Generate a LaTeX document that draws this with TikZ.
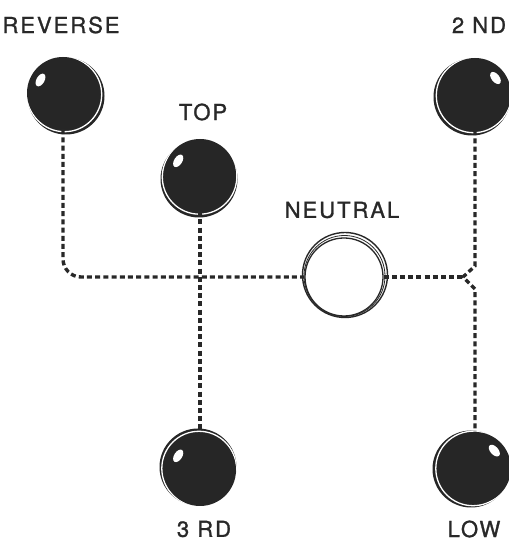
\documentclass[tikz,border=0pt]{standalone}
\usepackage{fontspec}
\setmainfont{TeX Gyre Heros}[LetterSpace=9, FakeBold=1.2]
\usetikzlibrary{calc}

\definecolor{knobgray}{RGB}{38,38,38}
\definecolor{inkgray}{RGB}{40,40,40}

\tikzset{
  knob/.style={circle, fill=knobgray, minimum size=72pt, inner sep=0pt},
  neutralknob/.style={circle, draw=inkgray, line width=1.3pt, fill=white, minimum size=78pt, inner sep=0pt},
  gatelabel/.style={text=inkgray, inner sep=0pt, font=\fontsize{22}{22}\selectfont},
  gateline/.style={draw=inkgray, line width=3.4pt, dash pattern=on 5pt off 3.2pt},
}

% name, centre, collar shift, gleam angle
\newcommand{\knob}[4]{%
  \fill[knobgray] ($#2+#3$) circle (38.5pt);
  \draw[white, line width=1.3pt] ($#2+0.5*#3$) circle (37.2pt);
  \node[knob] (#1) at #2 {};
  \fill[white, shift={($(#1.center)+(#4:26pt)$)}, rotate=#4-90] (0,0) ellipse (7pt and 4pt);
}

\begin{document}
\begin{tikzpicture}[x=1pt, y=1pt]

\useasboundingbox (0,0) rectangle (509,547);

\knob{rev}{(63,454)}{(3,-3)}{150}
\knob{top}{(200,372)}{(-1,-4)}{147}
\knob{third}{(200,77)}{(-2,3)}{147}
\knob{second}{(475,453)}{(-3,-3)}{38}
\knob{low}{(475,79)}{(-4,-1)}{42}

\draw[inkgray, line width=1.4pt] (345,272) circle (42.5pt);
\draw[inkgray, line width=0.8pt] (344.5,271) circle (40.5pt);
\node[neutralknob] (neu) at (344,270) {};

\node[gatelabel] (revlabel) at (61,522) {REVERSE};
\node[gatelabel] (toplabel) at (203,435) {TOP};
\node[gatelabel] (secondlabel) at (479,522) {2 ND};
\node[gatelabel] (neulabel) at (342,337) {NEUTRAL};
\node[gatelabel] (thirdlabel) at (204,18) {3 RD};
\node[gatelabel] (lowlabel) at (474,18) {LOW};

\coordinate (fork) at (463,270);

\draw[gateline, rounded corners=18pt] (rev.south) |- (neu.west);
\draw[gateline] (top.south) -- (third.north);
\draw[gateline] (neu.east) -- (fork);
\draw[gateline] (second.south) -- (475,281) -- (fork) -- (475,258) -- (low.north);

\end{tikzpicture}
\end{document}
